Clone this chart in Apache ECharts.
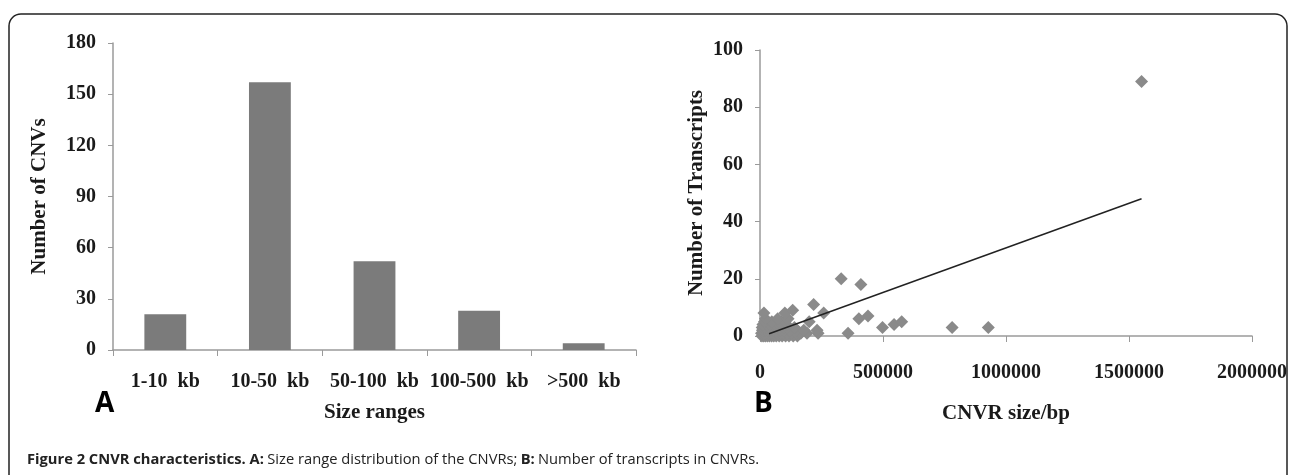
<!DOCTYPE html>
<html>
<head>
<meta charset="utf-8">
<script src="https://cdn.jsdelivr.net/npm/echarts@6/dist/echarts.min.js"></script>
<style>
  html, body { margin: 0; padding: 0; background: #fff; }
  #chart { width: 1293px; height: 475px; }
</style>
</head>
<body>
<div id="chart"></div>
<script>
// panel A: size range distribution
const sizeRanges = ['1-10  kb', '10-50  kb', '50-100  kb', '100-500  kb', '>500  kb'];
const cnvCounts = [21, 157, 52, 23, 4];

// panel B: CNVR size (bp) vs number of transcripts
const cnvrSize = [
    8000, 15000, 22000, 30000, 38000, 47000, 56000, 66000, 78000, 90000, 104000, 118000, 135000, 152000,
    6000, 14000, 24000, 35000, 45000, 58000, 70000, 84000, 97000, 112000, 128000, 146000, 166000, 191000, 236000, 358000,
    10000, 20000, 31000, 43000, 55000, 68000, 82000, 96000, 122000, 150000, 178000, 232000,
    9000, 19000, 28000, 40000, 52000, 64000, 80000, 95000, 110000, 140000, 498000, 781000, 928000,
    12000, 26000, 38000, 60000, 76000, 92000, 108000, 545000,
    18000, 48000, 86000, 100000, 200000, 576000,
    22000, 72000, 114000, 402000,
    439000,
    16000, 101000, 259000,
    133000,
    218000,
    410000,
    330000,
    1551000
];
const transcripts = [
    0, 0, 0, 0, 0, 0, 0, 0, 0, 0, 0, 0, 0, 0,
    1, 1, 1, 1, 1, 1, 1, 1, 1, 1, 1, 1, 1, 1, 1, 1,
    2, 2, 2, 2, 2, 2, 2, 2, 2, 2, 2, 2,
    3, 3, 3, 3, 3, 3, 3, 3, 3, 3, 3, 3, 3,
    4, 4, 4, 4, 4, 4, 4, 4,
    5, 5, 5, 5, 5, 5,
    6, 6, 6, 6,
    7,
    8, 8, 8,
    9,
    11,
    18,
    20,
    89
];
// linear trendline endpoints
const trendX = [37000, 1551000];
const trendY = [0.8, 48];

const serif = '"Liberation Serif", "Times New Roman", serif';
const axisGray = '#9a9a9a';
const labelStyle = { fontFamily: serif, fontWeight: 'bold', fontSize: 20, color: '#1a1a1a' };
const nameStyle = { fontFamily: serif, fontWeight: 'bold', fontSize: 21, color: '#1a1a1a' };

let myChart = echarts.init(document.getElementById('chart'));

let option = {
    animation: false,
    backgroundColor: '#fff',
    grid: [
        { left: 113, top: 43, width: 523, height: 307 },
        { left: 760, top: 50, width: 492, height: 286 }
    ],
    xAxis: [
        {
            gridIndex: 0,
            type: 'category',
            data: sizeRanges,
            name: 'Size ranges',
            nameLocation: 'middle',
            nameGap: 52,
            nameTextStyle: nameStyle,
            axisLine: { lineStyle: { color: axisGray, width: 1.5 } },
            axisTick: { show: true, length: 6, lineStyle: { color: axisGray } },
            axisLabel: Object.assign({ margin: 22, interval: 0 }, labelStyle),
            splitLine: { show: false }
        },
        {
            gridIndex: 1,
            type: 'value',
            min: 0,
            max: 2000000,
            interval: 500000,
            name: 'CNVR size/bp',
            nameLocation: 'middle',
            nameGap: 67,
            nameTextStyle: nameStyle,
            axisLine: { lineStyle: { color: axisGray, width: 1.5 } },
            axisTick: { show: true, length: 6, lineStyle: { color: axisGray } },
            axisLabel: Object.assign({ margin: 27, formatter: v => String(v) }, labelStyle),
            splitLine: { show: false }
        }
    ],
    yAxis: [
        {
            gridIndex: 0,
            type: 'value',
            min: 0,
            max: 180,
            interval: 30,
            name: 'Number of CNVs',
            nameLocation: 'middle',
            nameGap: 63,
            nameTextStyle: nameStyle,
            axisLine: { show: true, lineStyle: { color: axisGray, width: 1.5 } },
            axisTick: { show: true, length: 5, lineStyle: { color: axisGray } },
            axisLabel: Object.assign({ margin: 17 }, labelStyle),
            splitLine: { show: false }
        },
        {
            gridIndex: 1,
            type: 'value',
            min: 0,
            max: 100,
            interval: 20,
            name: 'Number of Transcripts',
            nameLocation: 'middle',
            nameGap: 53,
            nameTextStyle: nameStyle,
            axisLine: { show: true, lineStyle: { color: axisGray, width: 1.5 } },
            axisTick: { show: true, length: 5, lineStyle: { color: axisGray } },
            axisLabel: Object.assign({ margin: 17 }, labelStyle),
            splitLine: { show: false }
        }
    ],
    series: [
        {
            type: 'bar',
            xAxisIndex: 0,
            yAxisIndex: 0,
            data: cnvCounts,
            barWidth: '40%',
            itemStyle: { color: '#7b7b7b' }
        },
        {
            type: 'scatter',
            xAxisIndex: 1,
            yAxisIndex: 1,
            data: cnvrSize.map((x, i) => [x, transcripts[i]]),
            symbol: 'diamond',
            symbolSize: 13,
            itemStyle: { color: '#8a8a8a', opacity: 1 }
        },
        {
            type: 'line',
            xAxisIndex: 1,
            yAxisIndex: 1,
            data: trendX.map((x, i) => [x, trendY[i]]),
            symbol: 'none',
            lineStyle: { color: '#222', width: 1.5 }
        }
    ],
    graphic: [
        {
            type: 'rect',
            shape: { x: 9, y: 14, width: 1278, height: 490, r: 12 },
            style: { fill: 'none', stroke: '#222', lineWidth: 1.5 },
            silent: true
        },
        {
            type: 'text',
            left: 95,
            top: 390,
            style: { text: 'A', font: 'bold 28px "Open Sans", sans-serif', fill: '#000' }
        },
        {
            type: 'text',
            left: 754,
            top: 390,
            style: { text: 'B', font: 'bold 28px "Open Sans", sans-serif', fill: '#000' }
        },
        {
            type: 'text',
            left: 27,
            top: 452,
            style: {
                text: '{b|Figure 2 CNVR characteristics. A:} {r|Size range distribution of the CNVRs;} {b|B:} {r|Number of transcripts in CNVRs.}',
                rich: {
                    b: { fontFamily: '"Open Sans", sans-serif', fontWeight: 'bold', fontSize: 14.7, fill: '#222' },
                    r: { fontFamily: '"Open Sans", sans-serif', fontSize: 14.7, fill: '#222' }
                }
            }
        }
    ]
};

option && myChart.setOption(option);
</script>
</body>
</html>
